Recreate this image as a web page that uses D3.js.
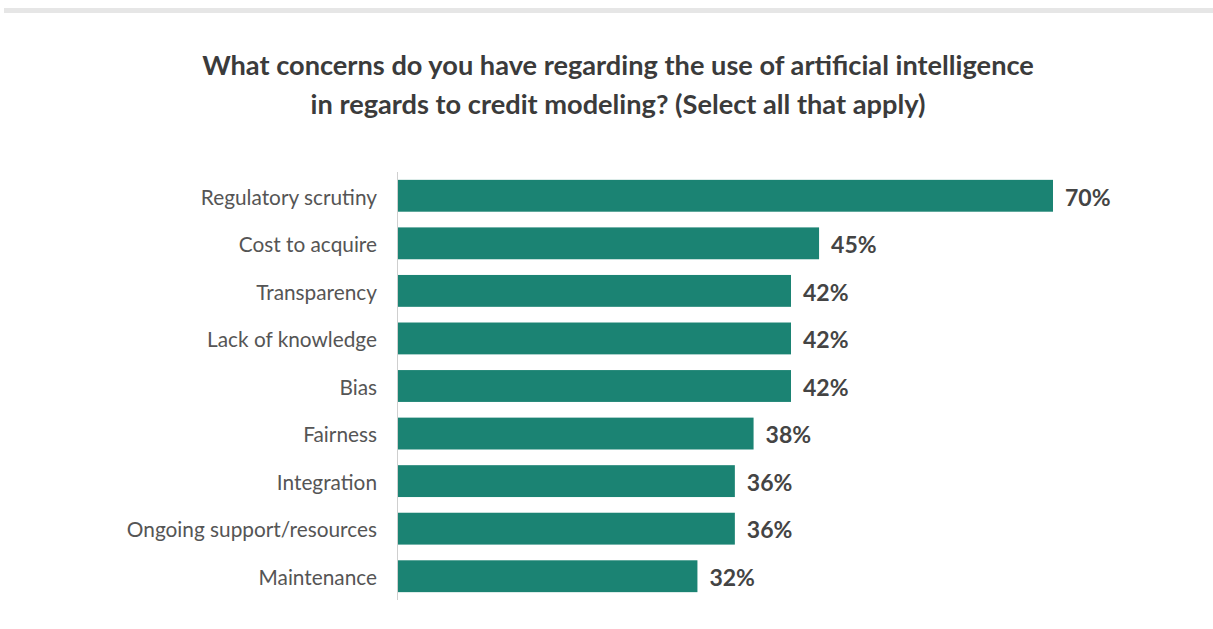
<!DOCTYPE html>
<html>
<head>
<meta charset="utf-8">
<script src="https://cdn.jsdelivr.net/npm/d3@7"></script>
<style>
  html, body { margin: 0; padding: 0; background: #fff; }
  svg { display: block; font-family: Lato, "Open Sans", sans-serif; }
</style>
</head>
<body>
<svg id="chart" width="1213" height="629"></svg>
<script>
// Survey responses: share of respondents citing each concern
const categories = [
  "Regulatory scrutiny",
  "Cost to acquire",
  "Transparency",
  "Lack of knowledge",
  "Bias",
  "Fairness",
  "Integration",
  "Ongoing support/resources",
  "Maintenance"
];
const values = [70, 45, 42, 42, 42, 38, 36, 36, 32];
const titleLines = [
  "What concerns do you have regarding the use of artificial intelligence",
  "in regards to credit modeling? (Select all that apply)"
];

const svg = d3.select("#chart");
const W = 1213;

// top rule
svg.append("rect")
  .attr("x", 4).attr("y", 8)
  .attr("width", W - 4).attr("height", 5)
  .attr("fill", "#e6e6e6");

// title
svg.append("g").selectAll("text")
  .data(titleLines)
  .join("text")
  .attr("x", 618)
  .attr("y", (d, i) => 75 + i * 39)
  .attr("text-anchor", "middle")
  .attr("font-size", 27.2)
  .attr("font-weight", 700)
  .attr("fill", "#3b3b3b")
  .text(d => d);

const x0 = 398;
const x = d3.scaleLinear().domain([0, 70]).range([x0, 1053]);
const y = d3.scaleBand()
  .domain(categories)
  .range([172, 600])
  .paddingInner(0.33)
  .paddingOuter(0.165);

// bars
svg.append("g").selectAll("rect")
  .data(categories)
  .join("rect")
  .attr("x", x(0))
  .attr("y", d => y(d))
  .attr("width", (d, i) => x(values[i]) - x(0))
  .attr("height", y.bandwidth())
  .attr("fill", "#1b8373");

// vertical axis line
svg.append("line")
  .attr("x1", x0 - 0.5).attr("x2", x0 - 0.5)
  .attr("y1", 172).attr("y2", 600)
  .attr("stroke", "#cfcfcf")
  .attr("stroke-width", 1);

// category labels
svg.append("g").selectAll("text")
  .data(categories)
  .join("text")
  .attr("x", 377)
  .attr("y", d => y(d) + y.bandwidth() / 2 + 1.5)
  .attr("dy", "0.35em")
  .attr("text-anchor", "end")
  .attr("font-size", 20.8)
  .attr("fill", "#555")
  .text(d => d);

// value labels
svg.append("g").selectAll("text")
  .data(categories)
  .join("text")
  .attr("x", (d, i) => x(values[i]) + 12)
  .attr("y", d => y(d) + y.bandwidth() / 2 + 1.5)
  .attr("dy", "0.36em")
  .attr("font-size", 23)
  .attr("font-weight", 700)
  .attr("fill", "#444")
  .text((d, i) => values[i] + "%");
</script>
</body>
</html>
